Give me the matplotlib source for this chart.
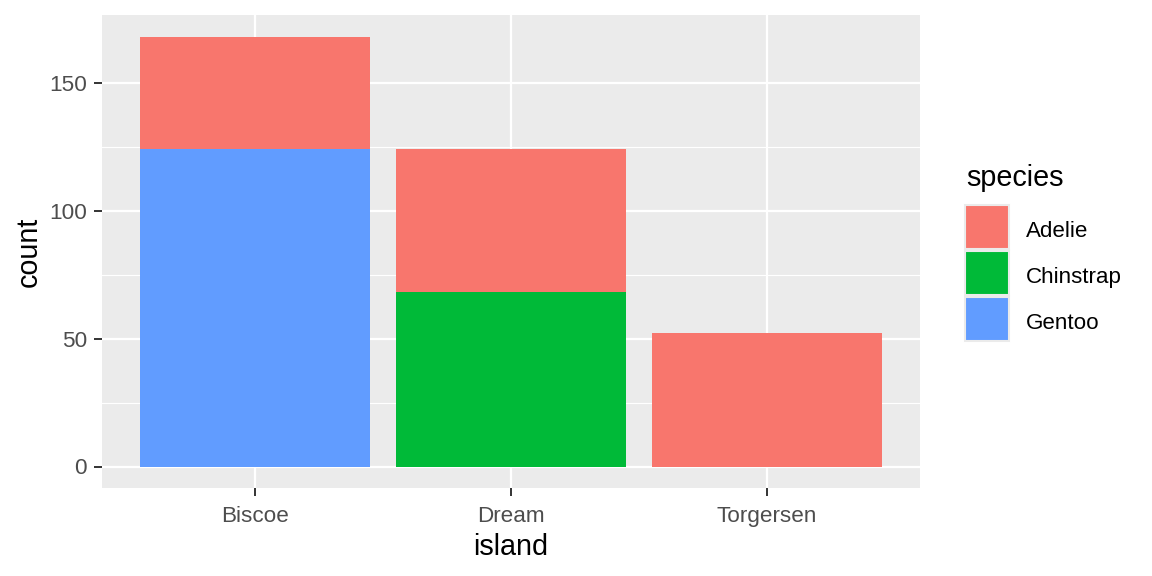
import matplotlib
matplotlib.use("Agg")
import matplotlib.pyplot as plt
from matplotlib.patches import Rectangle
import numpy as np

islands = ["Biscoe", "Dream", "Torgersen"]
species = ["Adelie", "Chinstrap", "Gentoo"]
adelie = [44, 56, 52]
chinstrap = [0, 68, 0]
gentoo = [124, 0, 0]
colors = ["#F8766D", "#00BA38", "#619CFF"]
yticks = [0, 50, 100, 150]
yminor = [25, 75, 125]

plt.rcParams['font.family'] = ['Liberation Sans', 'DejaVu Sans']

W, H = 1152, 576
fig = plt.figure(figsize=(W / 100, H / 100), dpi=100)
left, right, top, bottom = 102, 920, 15, 488
pw, ph = right - left, bottom - top
ax = fig.add_axes([left / W, (H - bottom) / H, pw / W, ph / H])
ax.set_facecolor("#EBEBEB")

x = np.arange(len(islands))
series = [gentoo, chinstrap, adelie]
scolors = [colors[2], colors[1], colors[0]]
base = np.zeros(len(islands))
for vals, c in zip(series, scolors):
    v = np.array(vals, dtype=float)
    ax.bar(x, v, bottom=base, width=0.9, color=c, zorder=3, linewidth=0)
    base += v

total = base.max()
ax.set_xlim(-0.6, len(islands) - 0.4)
ax.set_ylim(-total * 0.05, total * 1.05)

ax.set_yticks(yticks)
ax.set_yticks(yminor, minor=True)
ax.set_xticks(x)
ax.set_xticklabels(islands)
ax.grid(True, which="major", color="white", linewidth=1.6, zorder=1)
ax.grid(True, which="minor", axis="y", color="white", linewidth=0.8, zorder=1)
for s in ax.spines.values():
    s.set_visible(False)
ax.tick_params(axis="both", which="major", length=5.8, width=1.4, color="#333333",
               labelcolor="#4D4D4D", labelsize=16.2)
ax.tick_params(axis="x", which="major", pad=7)
ax.tick_params(axis="y", which="major", pad=5)
ax.tick_params(axis="y", which="minor", length=0)
ax.set_axisbelow(True)

xl = ax.set_xlabel("island", fontsize=20.7, color="black")
ax.xaxis.set_label_coords(0.5, (bottom - 555) / ph)
xl.set_va("baseline")
yl = ax.set_ylabel("count", fontsize=20.7, color="black")
ax.yaxis.set_label_coords((37 - left) / pw, 0.5)
yl.set_va("baseline")

# legend
def fx(px):
    return px / W

def fy(py):
    return (H - py) / H

fig.text(fx(966), fy(186), "species", fontsize=20.7, va="baseline", ha="left")
key_top = [205, 251, 297]
for sp, c, kt in zip(species, colors, key_top):
    fig.add_artist(Rectangle((fx(965), fy(kt + 44)), 44 / W, 44 / H,
                             transform=fig.transFigure, facecolor=c,
                             edgecolor="#EBEBEB", linewidth=1.5))
    fig.text(fx(1026), fy(kt + 31.7), sp, fontsize=16.1, va="baseline", ha="left")

fig.savefig("out.png", dpi=100, facecolor="white")
